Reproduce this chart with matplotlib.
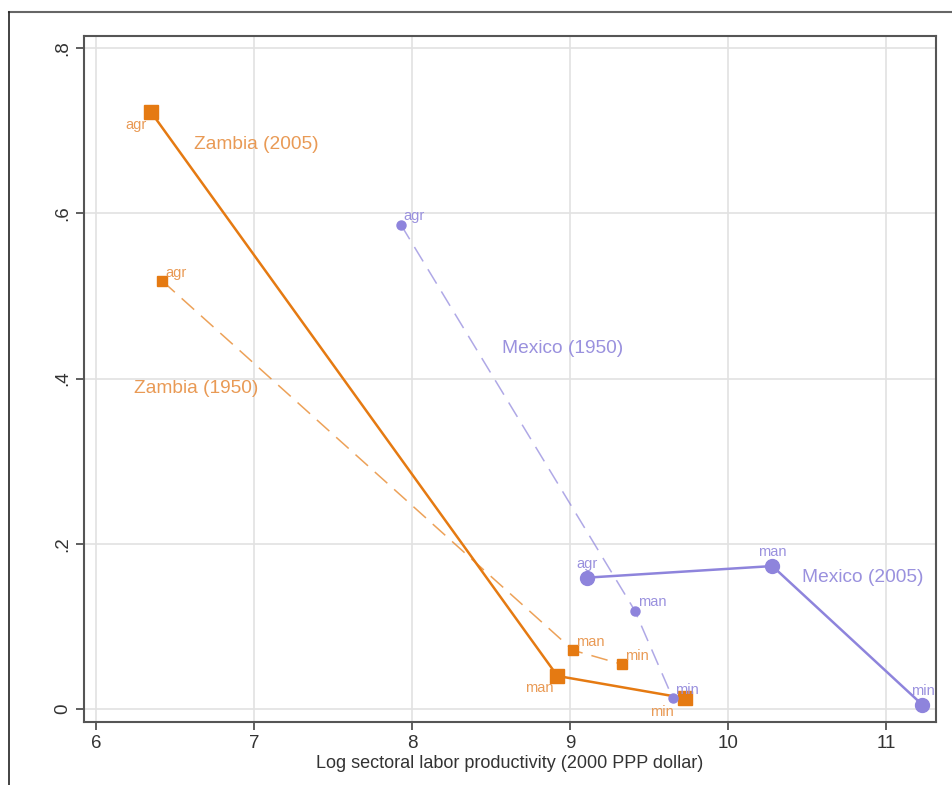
import matplotlib.pyplot as plt
from matplotlib.lines import Line2D

plt.rcParams['font.family'] = ['Liberation Sans', 'DejaVu Sans']

sectors = ['agr', 'man', 'min']

# Zambia
zam05_x = [6.35, 8.92, 9.73]
zam05_y = [0.722, 0.040, 0.013]
zam50_x = [6.42, 9.02, 9.33]
zam50_y = [0.518, 0.071, 0.054]

# Mexico
mex50_x = [7.93, 9.41, 9.65]
mex50_y = [0.586, 0.119, 0.013]
mex05_x = [9.11, 10.28, 11.23]
mex05_y = [0.159, 0.173, 0.005]

orange = '#E57A12'
orange_txt = '#E99A55'
purple = '#8E84DC'
purple_txt = '#9A91DE'

fig = plt.figure(figsize=(9.53, 7.85), dpi=100)
ax = fig.add_axes([0.0881, 0.0803, 0.8941, 0.8738])

# outer frame lines
fig.add_artist(Line2D([9 / 953, 1.0], [1 - 12 / 785] * 2, color='#666666', lw=1.5))
fig.add_artist(Line2D([9 / 953] * 2, [0.0, 1 - 12 / 785], color='#222222', lw=1.2))

ax.plot(zam05_x, zam05_y, color=orange, lw=1.8, marker='s', ms=10, zorder=3)
# 1950: faint dashed lines, solid small markers
ax.plot(zam50_x, zam50_y, color=orange, lw=1.1, ls=(0, (11, 6)), alpha=0.7, zorder=2)
ax.plot(zam50_x, zam50_y, color=orange, ls='none', marker='s', ms=6.5, zorder=3)
ax.plot(mex50_x, mex50_y, color=purple, lw=1.1, ls=(0, (11, 6)), alpha=0.7, zorder=2)
ax.plot(mex50_x, mex50_y, color=purple, ls='none', marker='o', ms=6.5, zorder=3)
ax.plot(mex05_x, mex05_y, color=purple, lw=1.8, marker='o', ms=10, zorder=3)


def label_points(xs, ys, offsets, color):
    for s, x, y, off in zip(sectors, xs, ys, offsets):
        ha = 'left' if off[0] > 0 else ('right' if off[0] < 0 else 'center')
        va = 'bottom' if off[1] > 0 else 'top'
        t = ax.annotate(s, (x, y), xytext=off, textcoords='offset points',
                        ha=ha, va=va, fontsize=10.5, color=color)
        t.set_clip_on(True)


label_points(zam05_x, zam05_y, [(-3, -4), (-3, -4), (-8, -5)], orange_txt)
label_points(zam50_x, zam50_y, [(2, 1), (2, 1), (2, 1)], orange_txt)
label_points(mex50_x, mex50_y, [(2, 1), (2, 1), (2, 1)], purple_txt)
label_points(mex05_x, mex05_y, [(0, 5), (0, 5), (0, 5)], purple_txt)

ax.text(6.62, 0.683, 'Zambia (2005)', color=orange_txt, fontsize=13.8, va='center')
ax.text(6.24, 0.388, 'Zambia (1950)', color=orange_txt, fontsize=13.8, va='center')
ax.text(8.57, 0.436, 'Mexico (1950)', color=purple_txt, fontsize=13.8, va='center')
ax.text(10.47, 0.159, 'Mexico (2005)', color=purple_txt, fontsize=13.8, va='center')

ax.set_xlim(5.924, 11.316)
ax.set_ylim(-0.0157, 0.8145)
ax.set_xticks([6, 7, 8, 9, 10, 11])
ax.set_yticks([0, 0.2, 0.4, 0.6, 0.8])
ax.set_yticklabels(['0', '.2', '.4', '.6', '.8'], rotation=90, va='center')
ax.tick_params(labelsize=13.5, length=6, width=1.2, color='#444444', labelcolor='#333333')
ax.grid(True, color='#e2e2e2', lw=1.2)
ax.set_axisbelow(True)
for sp in ax.spines.values():
    sp.set_color('#555555')
    sp.set_linewidth(1.5)

ax.set_xlabel('Log sectoral labor productivity (2000 PPP dollar)', fontsize=13,
              color='#333333', labelpad=2)

fig.savefig('out.png', dpi=100)
